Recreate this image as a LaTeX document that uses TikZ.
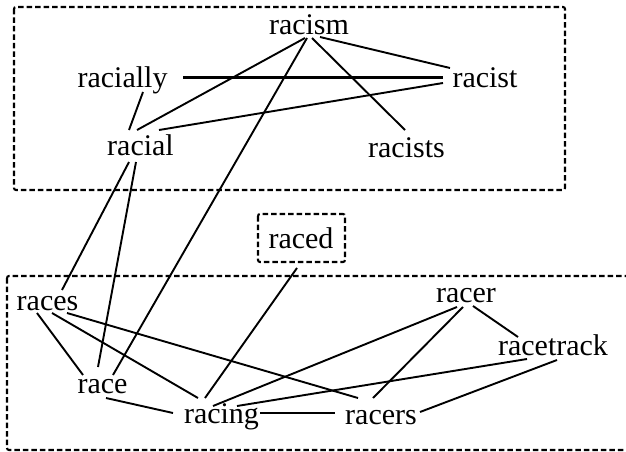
\documentclass[tikz,border=0pt]{standalone}
\usepackage{fontspec}
\setmainfont{Liberation Serif}
\begin{document}
\begin{tikzpicture}[x=1pt,y=-1pt,
  word/.style={anchor=base,inner sep=0pt,font=\fontsize{30}{30}\selectfont},
  link/.style={line width=1.9pt},
  thicklink/.style={line width=3pt},
  group/.style={line width=2.1pt,dash pattern=on 5.5pt off 3pt,rounded corners=2pt}]
\useasboundingbox (0,0) rectangle (626,452);
\clip (0,0) rectangle (626,452);
% groups
\draw[group] (14,7) rectangle (565,190);
\draw[group] (258,214) rectangle (345,262);
\draw[group] (7,276) rectangle (640,450);
% words
\node[word] (racism) at (309,35) {racism};
\node[word] (racially) at (122.5,87) {racially};
\node[word] (racist) at (485,87) {racist};
\node[word] (racial) at (140.5,155) {racial};
\node[word] (racists) at (406.5,157) {racists};
\node[word] (raced) at (301,248) {raced};
\node[word] (races) at (47.5,310) {races};
\node[word] (racer) at (466,302) {racer};
\node[word] (racetrack) at (553,355) {racetrack};
\node[word] (race) at (102.5,393) {race};
\node[word] (racing) at (221.5,423) {racing};
\node[word] (racers) at (381,424) {racers};
% links
\draw[link] ([shift={(-4,3)}]racism.base) -- ([shift={(-3.5,-25)}]racial.base);
\draw[link] ([shift={(-2,3)}]racism.base) -- ([shift={(10.5,-18)}]race.base);
\draw[link] ([shift={(3,3)}]racism.base) -- ([shift={(-1.5,-27)}]racists.base);
\draw[link] ([shift={(11,2)}]racism.base) -- ([shift={(-35,-19)}]racist.base);
\draw[thicklink] ([shift={(60.5,-10)}]racially.base) -- ([shift={(-42,-10)}]racist.base);
\draw[link] ([shift={(20.5,5)}]racially.base) -- ([shift={(-11.5,-25)}]racial.base);
\draw[link] ([shift={(18.5,-25)}]racial.base) -- ([shift={(-42,-4)}]racist.base);
\draw[link] ([shift={(-11.5,7)}]racial.base) -- ([shift={(14.5,-20)}]races.base);
\draw[link] ([shift={(-4.5,7)}]racial.base) -- ([shift={(-4.5,-26)}]race.base);
\draw[link] ([shift={(-4,20)}]raced.base) -- ([shift={(-16.5,-25)}]racing.base);
\draw[link] ([shift={(-10.5,3)}]races.base) -- ([shift={(-19.5,-18)}]race.base);
\draw[link] ([shift={(4.5,3)}]races.base) -- ([shift={(-23.5,-25)}]racing.base);
\draw[link] ([shift={(19.5,3)}]races.base) -- ([shift={(-23,-26)}]racers.base);
\draw[link] ([shift={(3.5,5)}]race.base) -- ([shift={(-48.5,-10)}]racing.base);
\draw[link] ([shift={(38.5,-10)}]racing.base) -- ([shift={(-46,-11)}]racers.base);
\draw[link] ([shift={(-9,5)}]racer.base) -- ([shift={(-8.5,-17)}]racing.base);
\draw[link] ([shift={(-3,5)}]racer.base) -- ([shift={(-8,-26)}]racers.base);
\draw[link] ([shift={(7,4)}]racer.base) -- ([shift={(-35,-18)}]racetrack.base);
\draw[link] ([shift={(-26,4)}]racetrack.base) -- ([shift={(15.5,-17)}]racing.base);
\draw[link] ([shift={(4,5)}]racetrack.base) -- ([shift={(39,-12)}]racers.base);
\end{tikzpicture}
\end{document}
